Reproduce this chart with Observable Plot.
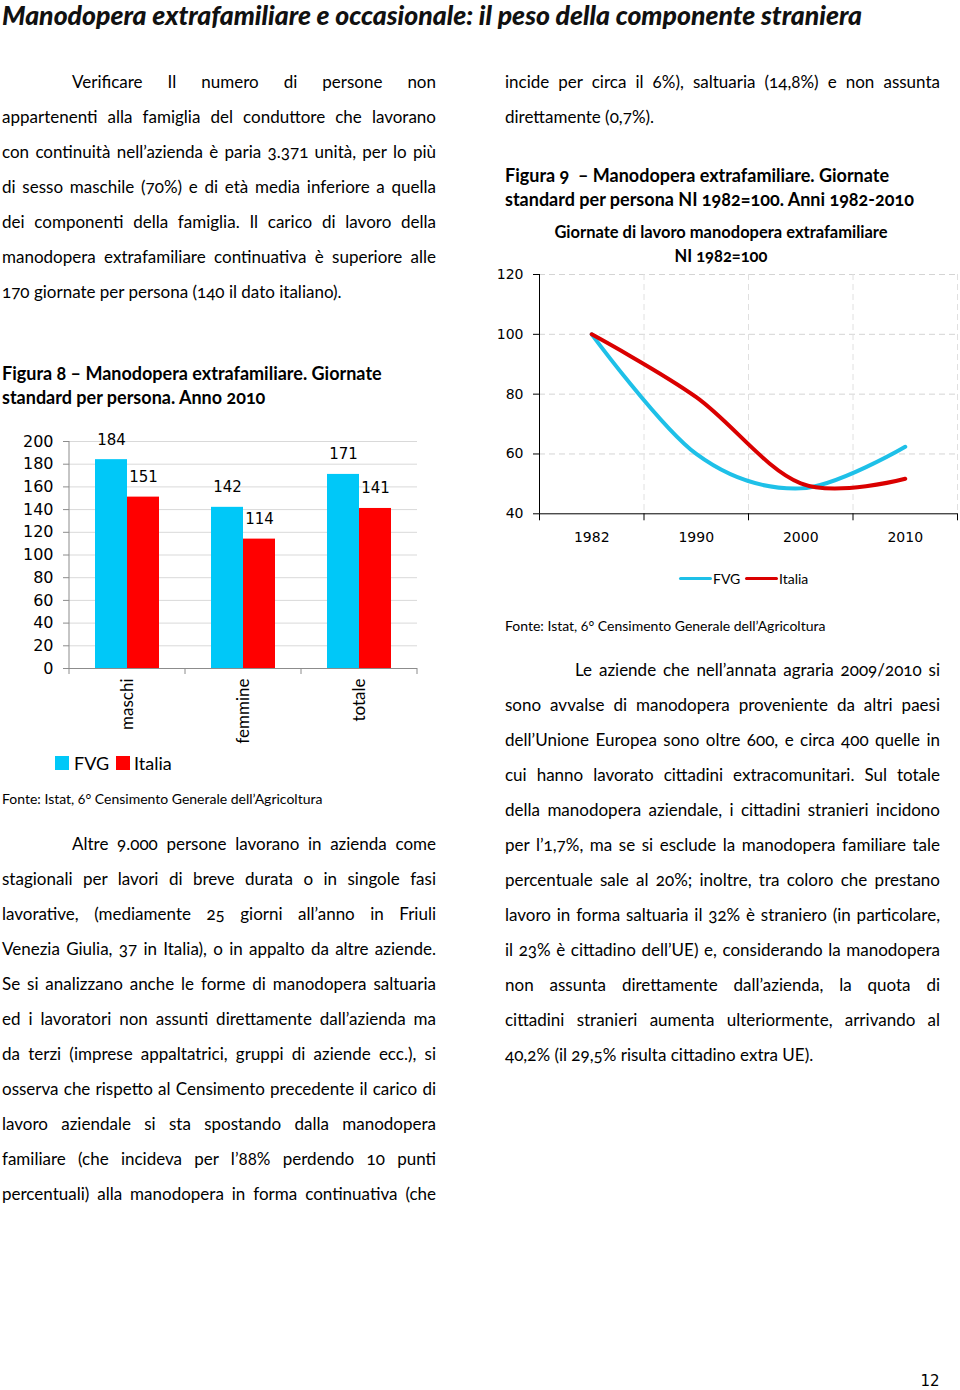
<!DOCTYPE html>
<html><head><meta charset="utf-8">
<script src="https://cdn.jsdelivr.net/npm/d3@7"></script>
<script src="https://cdn.jsdelivr.net/npm/@observablehq/plot@0.6"></script>
<style>
html,body{margin:0;padding:0;background:#fff;}
#page{position:relative;width:960px;height:1390px;overflow:hidden;font-family:Lato,sans-serif;color:#000;}
.abs{position:absolute;white-space:nowrap;}
.onum{font-variant-numeric:oldstyle-nums;}
svg{overflow:visible;}
</style></head><body><div id="page"></div>
<script>
// ---------- DATA ----------
const barCategories = ["maschi", "femmine", "totale"];
const barSeries = ["FVG", "Italia"];
const barFVG = [184, 142, 171];
const barItalia = [151, 114, 141];
const barTicks = [0, 20, 40, 60, 80, 100, 120, 140, 160, 180, 200];

const lineYears = ["1982", "1990", "2000", "2010"];
const lineFVG = [100, 60, 48.5, 62.4];
const lineItalia = [100, 79, 50.2, 51.7];
const lineTicks = [40, 60, 80, 100, 120];

const barColors = ["#00C8F8", "#FF0000"];
const lineColors = ["#1EC0E8", "#DA0000"];

// ---------- TEXT ----------
const pageTitle = "Manodopera extrafamiliare e occasionale: il peso della componente straniera";
const para1 = [
  "Verificare Il numero di persone non",
  "appartenenti alla famiglia del conduttore che lavorano",
  "con continuità nell’azienda è paria 3.371 unità, per lo più",
  "di sesso maschile (70%) e di età media inferiore a quella",
  "dei componenti della famiglia. Il carico di lavoro della",
  "manodopera extrafamiliare continuativa è superiore alle",
  "170 giornate per persona (140 il dato italiano)."
];
const fig8 = ["Figura 8 – Manodopera extrafamiliare. Giornate", "standard per persona. Anno 2010"];
const fonte = "Fonte: Istat, 6° Censimento Generale dell’Agricoltura";
const para2 = [
  "Altre 9.000 persone lavorano in azienda come",
  "stagionali per lavori di breve durata o in singole fasi",
  "lavorative, (mediamente 25 giorni all’anno in Friuli",
  "Venezia Giulia, 37 in Italia), o in appalto da altre aziende.",
  "Se si analizzano anche le forme di manodopera saltuaria",
  "ed i lavoratori non assunti direttamente dall’azienda ma",
  "da terzi (imprese appaltatrici, gruppi di aziende ecc.), si",
  "osserva che rispetto al Censimento precedente il carico di",
  "lavoro aziendale si sta spostando dalla manodopera",
  "familiare (che incideva per l’88% perdendo 10 punti",
  "percentuali) alla manodopera in forma continuativa (che"
];
const para0r = [
  "incide per circa il 6%), saltuaria (14,8%) e non assunta",
  "direttamente (0,7%)."
];
const fig9 = ["Figura 9\u00a0 – Manodopera extrafamiliare. Giornate", "standard per persona NI 1982=100. Anni 1982-2010"];
const lineTitle = ["Giornate di lavoro manodopera extrafamiliare", "NI 1982=100"];
const para3 = [
  "Le aziende che nell’annata agraria 2009/2010 si",
  "sono avvalse di manodopera proveniente da altri paesi",
  "dell’Unione Europea sono oltre 600, e circa 400 quelle in",
  "cui hanno lavorato cittadini extracomunitari. Sul totale",
  "della manodopera aziendale, i cittadini stranieri incidono",
  "per l’1,7%, ma se si esclude la manodopera familiare tale",
  "percentuale sale al 20%; inoltre, tra coloro che prestano",
  "lavoro in forma saltuaria il 32% è straniero (in particolare,",
  "il 23% è cittadino dell’UE) e, considerando la manodopera",
  "non assunta direttamente dall’azienda, la quota di",
  "cittadini stranieri aumenta ulteriormente, arrivando al",
  "40,2% (il 29,5% risulta cittadino extra UE)."
];

const page = document.getElementById("page");

function addLines(lines, o) {
  lines.forEach((t, k) => {
    const div = document.createElement("div");
    div.className = "abs" + (o.onum ? " onum" : "");
    const ind = k === 0 ? (o.indent || 0) : 0;
    div.style.top = (o.cy0 + k * o.lh - o.lh / 2 - 0.134 * o.fs + 2.5) + "px";
    div.style.lineHeight = o.lh + "px";
    div.style.fontSize = o.fs + "px";
    div.style.fontFamily = o.font || "Lato";
    div.style.fontWeight = o.weight || 400;
    div.style.color = o.color || "#000";
    div.textContent = t;
    page.appendChild(div);
    const w = div.getBoundingClientRect().width;
    if (o.center != null) {
      div.style.left = (o.center - w / 2) + "px";
      return;
    }
    div.style.left = (o.left + ind) + "px";
    if (!o.width) return;
    const target = o.width - ind;
    const isLast = k === lines.length - 1;
    const just = o.justify && (!isLast || o.justifyLast);
    const spaces = (t.match(/ /g) || []).length;
    if (w > target) div.style.letterSpacing = ((target - w) / t.length) + "px";
    else if (just && spaces) div.style.wordSpacing = ((target - w) / spaces) + "px";
  });
}

// Title
(function () {
  const d = document.createElement("div");
  d.className = "abs";
  d.style.cssText += "left:2px;top:0px;line-height:30px;font-family:Lato,sans-serif;font-weight:900;font-style:italic;font-size:26px;color:#111;transform-origin:0 0;";
  d.textContent = pageTitle;
  page.appendChild(d);
  const w = d.getBoundingClientRect().width;
  d.style.transform = `scaleX(${860 / w})`;
})();

const body = {fs: 17, lh: 35, justify: true, onum: true};
addLines(para1, {...body, left: 2, width: 434, cy0: 81, indent: 70});
addLines(fig8, {left: 2, cy0: 373, lh: 24, fs: 18, weight: 700, onum: true});
addLines([fonte], {left: 2, cy0: 798, lh: 20, fs: 14, onum: true});
addLines(para2, {...body, left: 2, width: 434, cy0: 843, indent: 70, justifyLast: true});
addLines(para0r, {...body, left: 505, width: 435, cy0: 81});
addLines(fig9, {left: 505, cy0: 175, lh: 24, fs: 18, weight: 700, onum: true});
addLines(lineTitle, {center: 721, cy0: 232, lh: 24, fs: 16.5, weight: 700, onum: true});
addLines([fonte], {left: 505, cy0: 625, lh: 20, fs: 14, onum: true});
addLines(para3, {...body, left: 505, width: 435, cy0: 669, indent: 70});
addLines(["12"], {center: 930, cy0: 1381, lh: 20, fs: 15, font: "DejaVu Sans"});

// ---------- BAR CHART ----------
const barData = barCategories.flatMap((c, i) => [
  {cat: c, series: barSeries[0], value: barFVG[i]},
  {cat: c, series: barSeries[1], value: barItalia[i]}
]);
const bar = Plot.plot({
  width: 425, height: 338,
  marginLeft: 68, marginRight: 8, marginTop: 21, marginBottom: 90,
  style: {fontFamily: "DejaVu Sans", fontSize: "16px", color: "#000", background: "transparent"},
  fx: {domain: barCategories, padding: 0, label: null},
  x: {domain: barSeries, paddingInner: 0, paddingOuter: 0.76, axis: null},
  y: {domain: [0, 200], label: null},
  color: {domain: barSeries, range: barColors},
  marks: [
    Plot.gridY(barTicks.filter(d => d > 0), {stroke: "#d9d9d9", strokeOpacity: 1}),
    Plot.barY(barData, {fx: "cat", x: "series", y: "value", fill: "series"}),
    Plot.ruleY([0], {stroke: "#8c8c8c"}),
    Plot.axisY({ticks: barTicks, tickSize: 6, tickPadding: 10, stroke: "#8c8c8c", label: null}),
    Plot.axisFx({anchor: "bottom", tickRotate: -90, tickSize: 0, tickPadding: 10, label: null, fontFamily: "Lato", fontSize: 17}),
    Plot.text(barData, {fx: "cat", x: "series", y: "value", text: d => String(d.value), lineAnchor: "bottom", dy: -15, fontSize: 15})
  ]
});
bar.style.position = "absolute";
bar.style.left = "0px";
bar.style.top = "420px";
page.appendChild(bar);
(function () {
  const fxS = bar.scale("fx"), yS = bar.scale("y");
  const svg = d3.select(bar);
  const y0 = yS.apply(0), yTop = yS.apply(200);
  const x0 = fxS.apply(barCategories[0]);
  svg.append("line").attr("x1", x0).attr("x2", x0).attr("y1", yTop).attr("y2", y0 + 6).attr("stroke", "#8c8c8c");
  barCategories.forEach(c => {
    const xr = fxS.apply(c) + fxS.bandwidth;
    svg.append("line").attr("x1", xr).attr("x2", xr).attr("y1", y0).attr("y2", y0 + 6).attr("stroke", "#8c8c8c");
  });
})();

// bar legend
(function () {
  const items = [[55, barColors[0]], [116, barColors[1]]];
  items.forEach(([sx, col]) => {
    const s = document.createElement("div");
    s.className = "abs";
    s.style.cssText += `left:${sx}px;top:756px;width:14px;height:14px;background:${col};`;
    page.appendChild(s);
  });
  addLines([barSeries[0]], {left: 74, cy0: 763, lh: 22, fs: 18});
  addLines([barSeries[1]], {left: 134, cy0: 763, lh: 22, fs: 18});
})();

// ---------- LINE CHART ----------
const lineData = lineYears.flatMap((yr, i) => [
  {i, series: barSeries[0], value: lineFVG[i]},
  {i, series: barSeries[1], value: lineItalia[i]}
]);
const idx = d3.range(lineYears.length);
const bounds = d3.range(lineYears.length + 1).map(i => i - 0.5);
const line = Plot.plot({
  width: 470, height: 288,
  marginLeft: 49, marginRight: 3, marginTop: 14, marginBottom: 34.7,
  style: {fontFamily: "DejaVu Sans", fontSize: "14px", color: "#000", background: "transparent"},
  x: {domain: [bounds[0], bounds[bounds.length - 1]], label: null},
  y: {domain: [40, 120], label: null},
  color: {domain: barSeries, range: lineColors},
  marks: [
    Plot.gridY(lineTicks.slice(1), {stroke: "#d4d4d4", strokeOpacity: 1, strokeDasharray: "6,4"}),
    Plot.gridX(bounds.slice(1), {stroke: "#e0e0e0", strokeOpacity: 1, strokeDasharray: "6,4"}),
    Plot.ruleY([40], {stroke: "#000"}),
    Plot.ruleX([bounds[0]], {stroke: "#000"}),
    Plot.axisY({ticks: lineTicks, tickSize: 6, tickPadding: 10, label: null}),
    Plot.axisX({ticks: bounds, tickSize: 7, tickFormat: () => "", label: null}),
    Plot.axisX({ticks: idx, tickSize: 0, tickPadding: 18, tickFormat: i => lineYears[i], label: null}),
    Plot.line(lineData, {x: "i", y: "value", z: "series", stroke: "series", strokeWidth: 4, curve: "cardinal"})
  ]
});
line.style.position = "absolute";
line.style.left = "490px";
line.style.top = "260px";
page.appendChild(line);

// line legend
(function () {
  const items = [[679, 713, barSeries[0], lineColors[0]], [745, 779, barSeries[1], lineColors[1]]];
  items.forEach(([sx, tx, label, col]) => {
    const s = document.createElement("div");
    s.className = "abs";
    s.style.cssText += `left:${sx}px;top:576.5px;width:33px;height:3.5px;background:${col};border-radius:2px;`;
    page.appendChild(s);
    addLines([label], {left: tx, cy0: 578, lh: 18, fs: 14});
  });
})();
</script>
</body></html>
